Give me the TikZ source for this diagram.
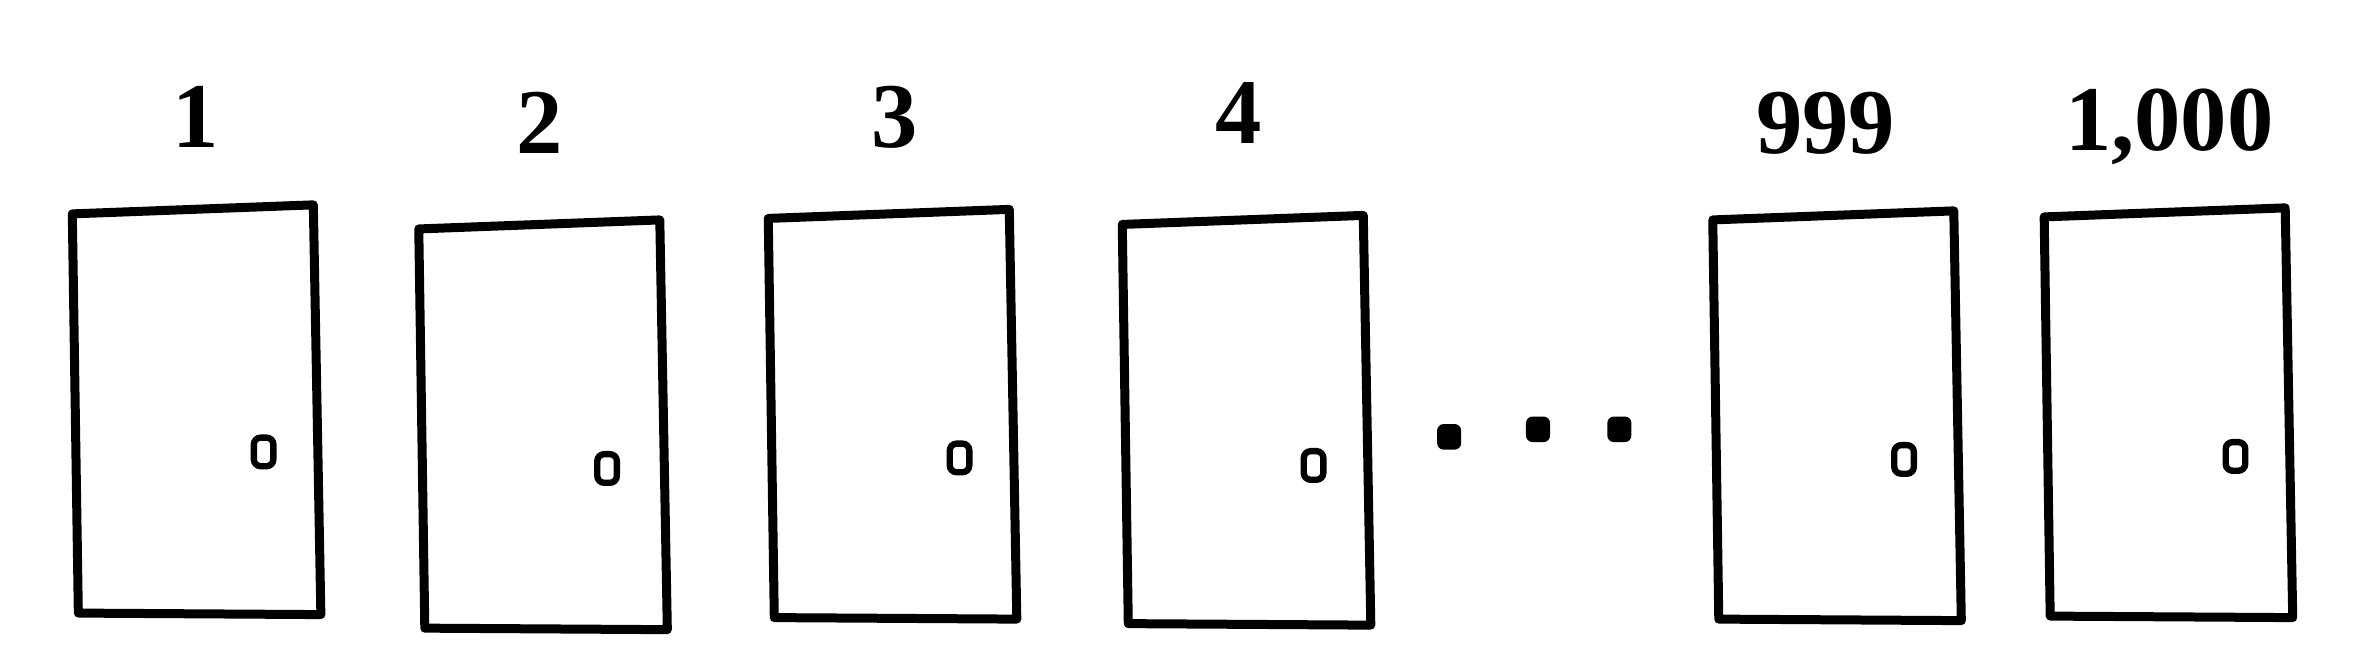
\documentclass[tikz,border=0pt]{standalone}
\usepackage{fontspec}
\setmainfont{Liberation Serif}
\usepackage{tikz}
\usetikzlibrary{shapes.geometric,positioning}
\tikzstyle{doorline}=[line width=3.4pt,line join=round,line cap=round]
\tikzstyle{knob}=[draw,rectangle,rounded corners=2.6pt,line width=2.4pt,minimum width=0.26cm,minimum height=0.38cm,inner sep=0pt]
\tikzstyle{doornum}=[font=\fontsize{35}{40}\selectfont\bfseries,anchor=base,inner sep=0pt]
\tikzstyle{dot}=[fill,rounded corners=2.5pt,rectangle,minimum width=0.32cm,minimum height=0.34cm,inner sep=0pt]

\begin{document}
\begin{tikzpicture}[x=0.02cm,y=0.02cm]
\useasboundingbox (0,0) rectangle (1568,439);
% doors
\draw[doorline] (52,32) coordinate (d1) -- ++(161,-1) -- ++(-5,272) -- ++(-160,-6) -- cycle;
\draw[doorline] (282,22) coordinate (d2) -- ++(161,-1) -- ++(-5,272) -- ++(-160,-6) -- cycle;
\draw[doorline] (514,29) coordinate (d3) -- ++(161,-1) -- ++(-5,272) -- ++(-160,-6) -- cycle;
\draw[doorline] (749,25) coordinate (d4) -- ++(161,-1) -- ++(-5,272) -- ++(-160,-6) -- cycle;
\draw[doorline] (1141,28) coordinate (d999) -- ++(161,-1) -- ++(-5,272) -- ++(-160,-6) -- cycle;
\draw[doorline] (1361,30) coordinate (d1000) -- ++(161,-1) -- ++(-5,272) -- ++(-160,-6) -- cycle;
% knobs
\draw (175,139) node [knob] (k1) {};
\draw (403,128) node [knob] (k2) {};
\draw (637,135) node [knob] (k3) {};
\draw (872,130) node [knob] (k4) {};
\draw (1264,134) node [knob] (k999) {};
\draw (1484,136) node [knob] (k1000) {};
% numbers
\draw (130,341) node [doornum] (n1) {1};
\draw (358,337) node [doornum] (n2) {2};
\draw (594,341) node [doornum] (n3) {3};
\draw (822,344) node [doornum] (n4) {4};
\draw (1212,337) node [doornum] (n999) {999};
\draw (1440,339) node [doornum] (n1000) {1,000};
% gap
\draw (962,149) node [dot] (g1) {};
\draw (1021,154) node [dot] (g2) {};
\draw (1075,154) node [dot] (g3) {};
\end{tikzpicture}
\end{document}
